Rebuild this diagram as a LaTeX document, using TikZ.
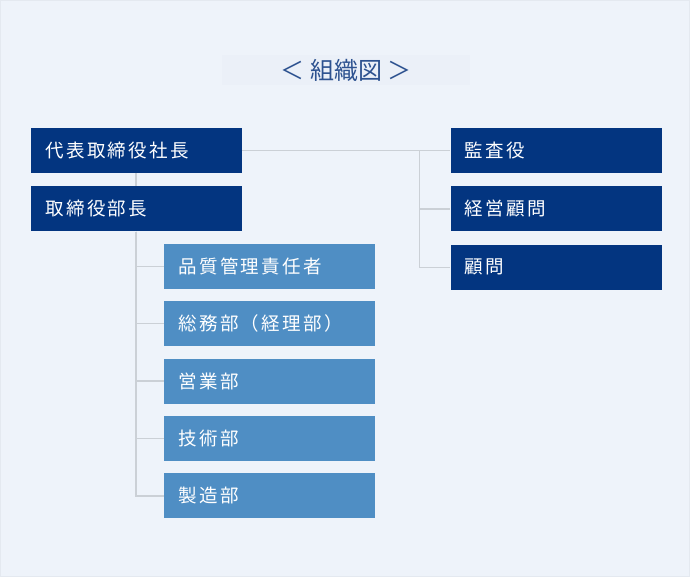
\documentclass[tikz,border=0pt]{standalone}
\usepackage{fontspec}
\newfontfamily\jpfont{Noto Sans CJK JP}[LetterSpace=13]
\newfontfamily\jptitle{Noto Sans CJK JP}
\usetikzlibrary{positioning}
\definecolor{pagebg}{HTML}{EEF3FA}
\definecolor{pageedge}{HTML}{E4E9F0}
\definecolor{titlebg}{HTML}{EBF0F8}
\definecolor{titleblue}{HTML}{2D5290}
\definecolor{navy}{HTML}{033580}
\definecolor{deptblue}{HTML}{4F8EC4}
\definecolor{linegrey}{HTML}{CBD0D6}

\begin{document}
\begin{tikzpicture}[x=1pt, y=1pt,
    box/.style={rectangle, minimum width=211pt, minimum height=45pt, text width=183pt,
        inner xsep=14pt, inner ysep=0pt, align=left, text=white,
        font=\jpfont\fontsize{18.5pt}{21pt}\selectfont},
    topbox/.style={box, fill=navy},
    deptbox/.style={box, fill=deptblue},
    titlebox/.style={rectangle, fill=titlebg, minimum width=248pt, minimum height=30pt,
        text=titleblue, font=\jptitle\fontsize{24pt}{27pt}\selectfont},
    link/.style={draw=linegrey, line width=1.5pt}
]
    \draw[fill=pagebg, draw=pageedge, line width=1pt] (0.5,-0.5) rectangle (689.5,-576.5);

    \node[titlebox] (title) at (346,-70) {＜ 組織図 ＞};

    \node[topbox, anchor=west] (daihyo) at (31,-150.5) {代表取締役社長};
    \node[topbox, below=13pt of daihyo] (buchou) {取締役部長};
    \node[topbox, right=208pt of daihyo] (kansa) {監査役};
    \node[topbox, below=13pt of kansa] (keiei) {経営顧問};
    \node[topbox, below=13pt of keiei] (komon) {顧問};

    \node[deptbox, below right=12pt and 133pt of buchou.south west] (hinshitsu) {品質管理責任者};
    \node[deptbox, below=12pt of hinshitsu] (soumu) {総務部（経理部）};
    \node[deptbox, below=12pt of soumu] (eigyou) {営業部};
    \node[deptbox, below=12pt of eigyou] (gijutsu) {技術部};
    \node[deptbox, below=12pt of gijutsu] (seizou) {製造部};

    \coordinate (trunk) at ([xshift=105pt]buchou.south west);
    \coordinate (branch) at ([xshift=-31pt]kansa.west);

    \draw[link] (daihyo.south -| trunk) -- (buchou.north -| trunk);
    \foreach \dept in {hinshitsu,soumu,eigyou,gijutsu,seizou}
        \draw[link] (trunk) |- (\dept.west);

    \draw[link] (daihyo.east) -- (kansa.west);
    \foreach \sub in {keiei,komon}
        \draw[link] (branch) |- (\sub.west);
\end{tikzpicture}
\end{document}
